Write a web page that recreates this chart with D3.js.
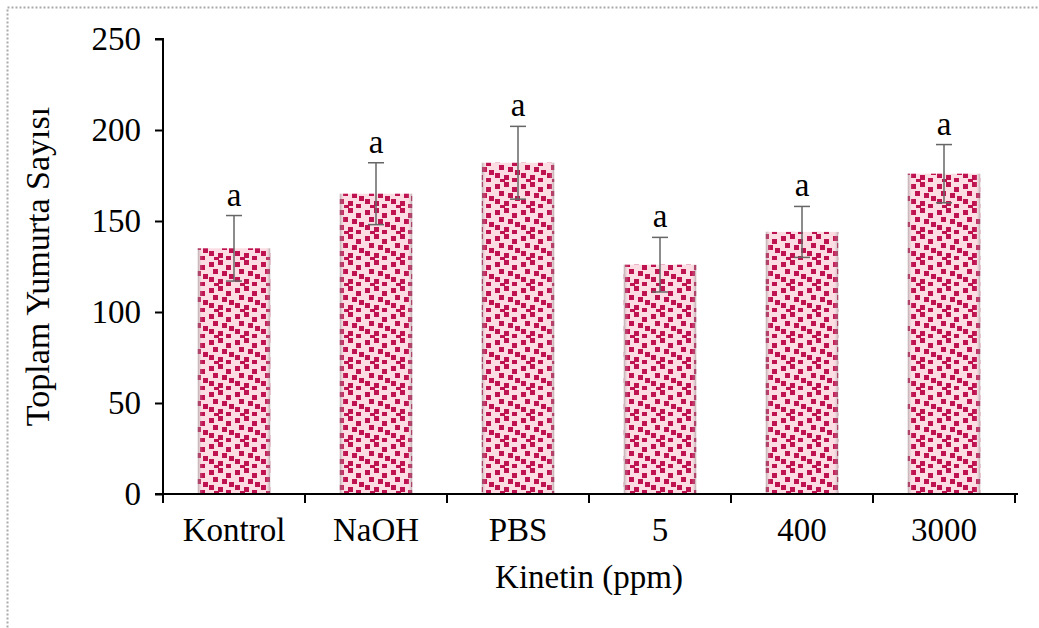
<!DOCTYPE html>
<html><head><meta charset="utf-8">
<script src="https://cdn.jsdelivr.net/npm/d3@7"></script>
<style>body{margin:0;background:#fff}svg{display:block}</style>
</head><body>
<script>
const categories = ["Kontrol","NaOH","PBS","5","400","3000"];
const values = [135,165,182,126,144,176];
const errors = [18,17,20,15,14,16];
const letters = ["a","a","a","a","a","a"];
const yTicks = [0,50,100,150,200,250];
const xTitle = "Kinetin (ppm)";
const yTitle = "Toplam Yumurta Sayısı";

const W=1039,H=628;
const svg=d3.select("body").append("svg").attr("width",W).attr("height",H);
const font="'Liberation Serif','Times New Roman',serif";

svg.append("rect").attr("x",7.5).attr("y",7.5).attr("width",1100).attr("height",700)
  .attr("fill","none").attr("stroke","#aaa").attr("stroke-width",2).attr("stroke-dasharray","2,2");

const defs=svg.append("defs");
const pat=defs.append("pattern").attr("id","dots").attr("patternUnits","userSpaceOnUse")
  .attr("width",26).attr("height",26);
pat.append("rect").attr("width",26).attr("height",26).attr("fill","#fddde4");
const sq=[[1,2],[10,0],[18,5],[5,9],[14,11],[21,14],[1,17],[10,19],[18,22],[6,23]];
sq.forEach(([x,y])=>pat.append("rect").attr("x",x).attr("y",y).attr("width",5).attr("height",5).attr("fill","#bf1250"));
const grad=defs.append("linearGradient").attr("id","shade");
grad.append("stop").attr("offset","0").attr("stop-color","#777").attr("stop-opacity",0.5);
grad.append("stop").attr("offset","0.07").attr("stop-color","#fff").attr("stop-opacity",0);
grad.append("stop").attr("offset","0.93").attr("stop-color","#fff").attr("stop-opacity",0);
grad.append("stop").attr("offset","1").attr("stop-color","#777").attr("stop-opacity",0.5);

const m={l:163,r:1015,t:39,b:494};
const x=d3.scaleBand().domain(categories).range([m.l,m.r]).paddingInner(0.49).paddingOuter(0.245);
const y=d3.scaleLinear().domain([0,250]).range([m.b,m.t]);

const g=svg.append("g");
g.selectAll("rect.bar").data(values).join("rect").attr("class","bar")
  .attr("x",(d,i)=>x(categories[i])).attr("width",x.bandwidth())
  .attr("y",d=>y(d)).attr("height",d=>y(0)-y(d)).attr("fill","url(#dots)");
g.selectAll("rect.sh").data(values).join("rect").attr("class","sh")
  .attr("x",(d,i)=>x(categories[i])).attr("width",x.bandwidth())
  .attr("y",d=>y(d)).attr("height",d=>y(0)-y(d)).attr("fill","url(#shade)");

const cx=i=>x(categories[i])+x.bandwidth()/2;
const eb=g.selectAll("g.eb").data(values).join("g").attr("stroke","#666").attr("stroke-width",1.5);
eb.append("line").attr("x1",(d,i)=>cx(i)).attr("x2",(d,i)=>cx(i))
  .attr("y1",(d,i)=>y(d+errors[i])).attr("y2",(d,i)=>y(d-errors[i]));
eb.append("line").attr("x1",(d,i)=>cx(i)-8).attr("x2",(d,i)=>cx(i)+8)
  .attr("y1",(d,i)=>y(d+errors[i])).attr("y2",(d,i)=>y(d+errors[i]));
eb.append("line").attr("x1",(d,i)=>cx(i)-8).attr("x2",(d,i)=>cx(i)+8)
  .attr("y1",(d,i)=>y(d-errors[i])).attr("y2",(d,i)=>y(d-errors[i]));

g.selectAll("text.let").data(values).join("text").attr("class","let")
  .attr("x",(d,i)=>cx(i)).attr("y",(d,i)=>y(d+errors[i])-10)
  .attr("text-anchor","middle").attr("font-family",font).attr("font-size",33).attr("fill","#000")
  .text((d,i)=>letters[i]);

const ya=svg.append("g").attr("transform",`translate(${m.l},0)`)
  .call(d3.axisLeft(y).tickValues(yTicks).tickSize(8).tickPadding(14));
ya.select(".domain").attr("stroke","#000").attr("stroke-width",2).attr("d",`M-8,${m.t}H0V${m.b}`);
ya.selectAll(".tick line").attr("stroke","#000").attr("stroke-width",2);
ya.selectAll("text").attr("font-family",font).attr("font-size",33).attr("fill","#000");

const xa=svg.append("g").attr("transform",`translate(0,${m.b})`);
xa.append("line").attr("x1",m.l-8).attr("x2",m.r+3).attr("y1",0).attr("y2",0).attr("stroke","#000").attr("stroke-width",2);
const bounds=d3.range(categories.length+1).map(i=>m.l+i*(m.r-m.l)/categories.length);
xa.selectAll("line.t").data(bounds).join("line").attr("class","t")
  .attr("x1",d=>d).attr("x2",d=>d).attr("y1",0).attr("y2",9).attr("stroke","#000").attr("stroke-width",2);
xa.selectAll("text").data(categories).join("text")
  .attr("x",(d,i)=>cx(i)).attr("y",47).attr("text-anchor","middle")
  .attr("font-family",font).attr("font-size",33).attr("fill","#000").text(d=>d);

svg.append("text").attr("x",(m.l+m.r)/2).attr("y",588).attr("text-anchor","middle")
  .attr("font-family",font).attr("font-size",33).attr("fill","#000").text(xTitle);
svg.append("text").attr("transform",`translate(49,${(m.t+m.b)/2}) rotate(-90)`).attr("text-anchor","middle")
  .attr("font-family",font).attr("font-size",34).attr("fill","#000").text(yTitle);
</script>
</body></html>
